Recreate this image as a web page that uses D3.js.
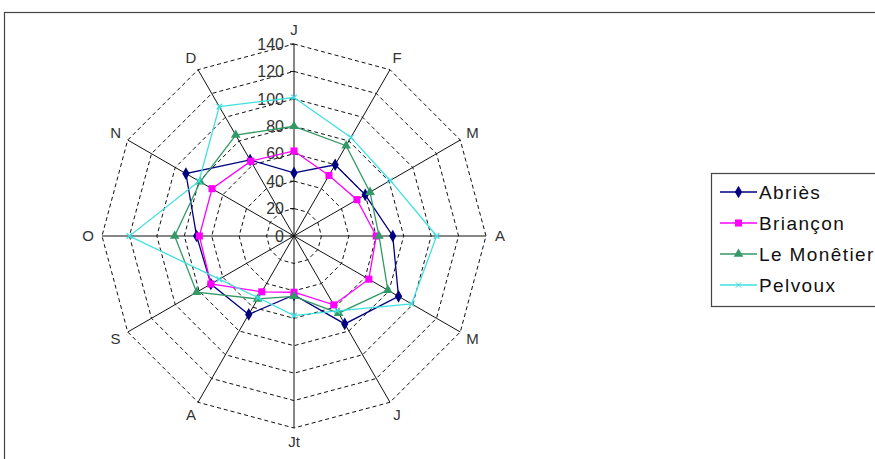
<!DOCTYPE html>
<html>
<head>
<meta charset="utf-8">
<script src="https://cdn.jsdelivr.net/npm/d3@7"></script>
<style>
  body { margin: 0; background: #fff; }
  svg { display: block; font-family: "Liberation Sans", Arial, sans-serif; }
</style>
</head>
<body>
<div id="chart"></div>
<script>
// months, clockwise from the top
const months = ["J", "F", "M", "A", "M", "J", "Jt", "A", "S", "O", "N", "D"];
const ticks = [0, 20, 40, 60, 80, 100, 120, 140];

// values
const abries   = [46, 60, 60, 72, 88, 74, 43, 66, 70, 71, 91, 64];
const briancon = [62, 51, 53, 60, 63, 58, 41, 47, 70, 69, 69, 63];
const monetier = [80, 76, 64, 62, 79, 65, 44, 53, 82, 87, 79, 85];
const pelvoux  = [101, 83, 81, 104, 99, 63, 58, 52, 63, 120, 80, 109];

const seriesNames = ["Abriès", "Briançon", "Le Monêtier", "Pelvoux"];

const series = [
    { name: seriesNames[0], values: abries,   color: "#000080", symbol: d3.symbolDiamond, size: 46 },
    { name: seriesNames[1], values: briancon, color: "#ff00ff", symbol: d3.symbolSquare,  size: 50 },
    { name: seriesNames[2], values: monetier, color: "#339966", symbol: d3.symbolTriangle, size: 40 },
    { name: seriesNames[3], values: pelvoux,  color: "#40e0e0", symbol: d3.symbolTimes,   size: 22 }
];

const width = 875, height = 459;
const cx = 294, cy = 236;

const svg = d3.select("#chart").append("svg")
    .attr("width", width)
    .attr("height", height);

// outer frame of the chart area
svg.append("rect")
    .attr("x", 4.5).attr("y", 12.5)
    .attr("width", width + 10).attr("height", height + 10)
    .attr("fill", "none").attr("stroke", "#444").attr("stroke-width", 1.2);

const r = d3.scaleLinear().domain([0, 140]).range([0, 192]);
const angle = d3.scalePoint().domain(d3.range(months.length)).range([0, 2 * Math.PI * (11 / 12)]);

const g = svg.append("g").attr("transform", `translate(${cx},${cy})`);

// dashed rings
const ring = d3.lineRadial()
    .angle((d, i) => angle(i))
    .radius(d => r(d))
    .curve(d3.curveLinearClosed);

g.append("g")
    .selectAll("path")
    .data(ticks.slice(1))
    .join("path")
    .attr("d", t => ring(months.map(() => t)))
    .attr("fill", "none")
    .attr("stroke", "#111")
    .attr("stroke-width", 1)
    .attr("stroke-dasharray", "4,3");

// spokes
g.append("g")
    .selectAll("line")
    .data(months)
    .join("line")
    .attr("x1", 0).attr("y1", 0)
    .attr("x2", (d, i) => r(140) * Math.sin(angle(i)))
    .attr("y2", (d, i) => -r(140) * Math.cos(angle(i)))
    .attr("stroke", "#111")
    .attr("stroke-width", 1);

// value axis labels + tick marks on the top spoke
const axisG = g.append("g");
axisG.selectAll("line")
    .data(ticks)
    .join("line")
    .attr("x1", -4).attr("x2", 0)
    .attr("y1", d => -r(d)).attr("y2", d => -r(d))
    .attr("stroke", "#111");
axisG.selectAll("text")
    .data(ticks)
    .join("text")
    .attr("x", -10)
    .attr("y", d => -r(d))
    .attr("dy", "0.36em")
    .attr("text-anchor", "end")
    .attr("font-size", 16)
    .attr("fill", "#333")
    .text(d => d);

// month labels
g.append("g")
    .selectAll("text")
    .data(months)
    .join("text")
    .attr("x", (d, i) => 206 * Math.sin(angle(i)))
    .attr("y", (d, i) => -206 * Math.cos(angle(i)))
    .attr("dy", "0.36em")
    .attr("text-anchor", "middle")
    .attr("font-size", 15)
    .attr("fill", "#333")
    .text(d => d);

// series lines and markers
const line = d3.lineRadial()
    .angle((d, i) => angle(i))
    .radius(d => r(d))
    .curve(d3.curveLinearClosed);

series.forEach(s => {
    const sg = g.append("g");
    sg.append("path")
        .attr("d", line(s.values))
        .attr("fill", "none")
        .attr("stroke", s.color)
        .attr("stroke-width", 1.3);
    sg.selectAll("path.m")
        .data(s.values)
        .join("path")
        .attr("class", "m")
        .attr("transform", (d, i) => `translate(${r(d) * Math.sin(angle(i))},${-r(d) * Math.cos(angle(i))})`)
        .attr("d", d3.symbol().type(s.symbol).size(s.size))
        .attr("fill", s.symbol === d3.symbolTimes ? "none" : s.color)
        .attr("stroke", s.symbol === d3.symbolTimes ? s.color : "none")
        .attr("stroke-width", 1.2);
});

// legend
const legend = svg.append("g");
legend.append("rect")
    .attr("x", 711.5).attr("y", 173.5)
    .attr("width", 200).attr("height", 133)
    .attr("fill", "#fff").attr("stroke", "#444").attr("stroke-width", 1.2);

const item = legend.selectAll("g")
    .data(series)
    .join("g")
    .attr("transform", (d, i) => `translate(720,${192 + i * 31})`);
item.append("line")
    .attr("x1", 0).attr("x2", 37)
    .attr("stroke", d => d.color).attr("stroke-width", 1.3);
item.append("path")
    .attr("transform", "translate(18.5,0)")
    .attr("d", d => d3.symbol().type(d.symbol).size(d.size)())
    .attr("fill", d => d.symbol === d3.symbolTimes ? "none" : d.color)
    .attr("stroke", d => d.symbol === d3.symbolTimes ? d.color : "none");
item.append("text")
    .attr("x", 39)
    .attr("dy", "0.36em")
    .attr("font-size", 19)
    .attr("letter-spacing", "1.4px")
    .attr("fill", "#111")
    .text(d => d.name);
</script>
</body>
</html>
